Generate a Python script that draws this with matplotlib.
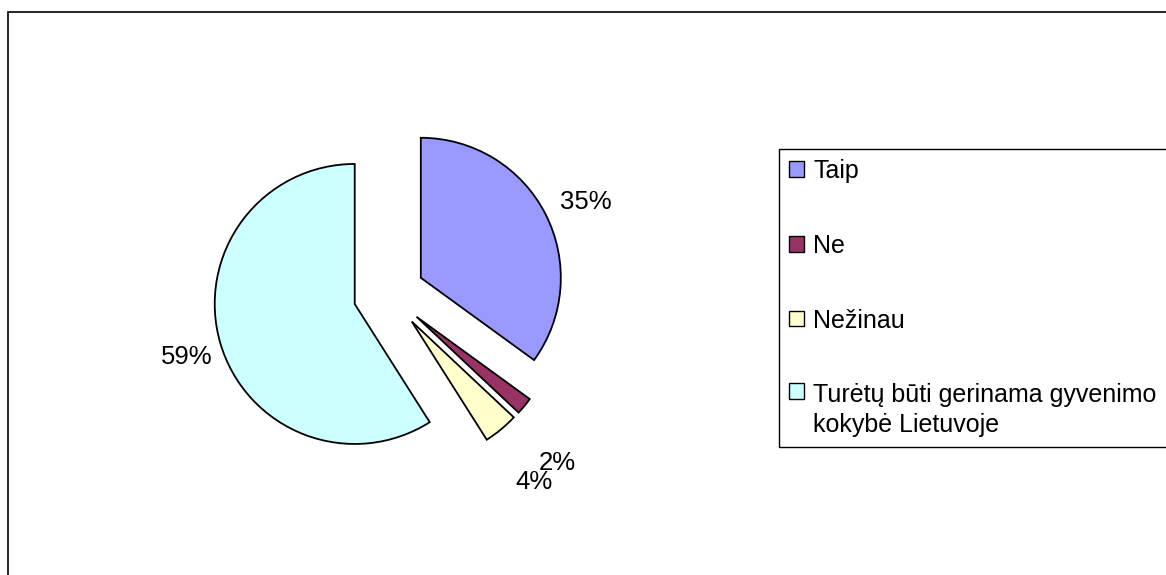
import numpy as np
import matplotlib
matplotlib.use("Agg")
import matplotlib.pyplot as plt
from matplotlib.patches import Rectangle

plt.rcParams['font.family'] = ['Liberation Sans', 'DejaVu Sans']

categories = ["Taip", "Ne", "Nežinau", "Turėtų būti gerinama gyvenimo\nkokybė Lietuvoje"]
values = [35, 2, 4, 59]
pct_labels = ["35%", "2%", "4%", "59%"]
colors = ["#9999FF", "#993366", "#FFFFCC", "#CCFFFF"]

W, H = 1166, 575
fig = plt.figure(figsize=(W / 100, H / 100), dpi=100)
fig.patch.set_facecolor("white")

ax = fig.add_axes([0, 0, 1, 1])
R_PX = 140.0
CX, CY = 389.0, 294.0  # pie centre in pixels (from top-left)

wedges, _ = ax.pie(values, colors=colors, startangle=90, counterclock=False,
                   explode=[0.255] * len(values), radius=1.0,
                   wedgeprops=dict(edgecolor="black", linewidth=1.3))

# label placement (distance in radii, angle shift in degrees)
label_dist = [1.30, 1.45, 1.44, 1.26]
label_shift = [-2.4, -6.4, -2.2, 1.2]
for w, lab, d, s in zip(wedges, pct_labels, label_dist, label_shift):
    ang = np.deg2rad(0.5 * (w.theta1 + w.theta2) + s)
    cx, cy = w.center
    ax.text(cx + d * np.cos(ang), cy + d * np.sin(ang), lab,
            ha="center", va="center", fontsize=18.5, color="black")

ax.set_xlim(-CX / R_PX, (W - CX) / R_PX)
ax.set_ylim(-(H - CY) / R_PX, CY / R_PX)
ax.set_aspect("auto")
ax.axis("off")

# outer chart border (extends past the right and bottom edges)
fig.patches.append(Rectangle((8 / W, -0.1), 1.2, 1 - 12 / H + 0.1,
                             transform=fig.transFigure, fill=False,
                             edgecolor="black", linewidth=1.2))

leg = fig.legend(wedges, categories, loc="upper left",
                 bbox_to_anchor=(779 / W, 1 - 149 / H, (1250 - 779) / W, 0.0),
                 mode="expand", fontsize=18, frameon=True, fancybox=False,
                 edgecolor="black", framealpha=1.0, borderpad=0.4,
                 labelspacing=2.03, handlelength=0.58, handleheight=0.58,
                 handletextpad=0.38, borderaxespad=0.0)
leg.get_frame().set_linewidth(1.0)
for t in leg.get_texts():
    t.set_linespacing(1.3)
for h in leg.legend_handles:
    h.set_linewidth(1.0)
# align the marker of the two-line entry with its first line
try:
    col = leg._legend_handle_box.get_children()[0]
    col.get_children()[-1].align = "top"
except Exception:
    pass

fig.savefig("out.png", dpi=100, facecolor="white")
